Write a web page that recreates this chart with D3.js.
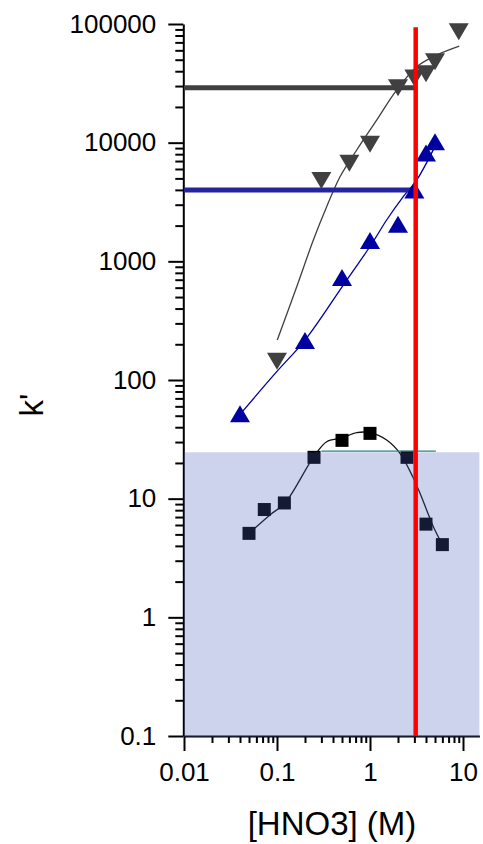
<!DOCTYPE html>
<html>
<head>
<meta charset="utf-8">
<script src="https://cdn.jsdelivr.net/npm/d3@7"></script>
<style>
  html, body { margin: 0; padding: 0; background: #fff; }
  svg { display: block; }
  text { font-family: "Liberation Sans", Arial, sans-serif; fill: #000; }
</style>
</head>
<body>
<svg id="chart" width="483" height="844"></svg>
<script>
// ---- data ----
const yMajorTicks = [0.1, 1, 10, 100, 1000, 10000, 100000];
const yTickLabels = ["0.1", "1", "10", "100", "1000", "10000", "100000"];
const xMajorTicks = [0.01, 0.1, 1, 10];
const xTickLabels = ["0.01", "0.1", "1", "10"];

// inverted triangles (dark gray)
const downX = [0.1, 0.3, 0.6, 1, 2, 3, 4, 5, 9];
const downY = [144, 4800, 6700, 9700, 29000, 35000, 38000, 48000, 86000];
// triangles (blue)
const upX = [0.04, 0.2, 0.5, 1, 2, 3, 4, 5];
const upY = [52, 215, 730, 1500, 2050, 4000, 8200, 10200];
// squares (black)
const sqX = [0.05, 0.073, 0.12, 0.25, 0.5, 1, 2.5, 4, 6];
const sqY = [5.1, 8.1, 9.2, 22.3, 31, 35.5, 22.3, 6.1, 4.1];

// fitted curves
const grayFitX = [0.1007, 0.163, 0.246, 0.342, 0.476, 0.72, 1.18, 1.94, 3.18, 5.21, 9.12];
const grayFitY = [217, 611, 1513, 2885, 5165, 8670, 15500, 27800, 43600, 54800, 65200];
const blueFitX = [0.038, 0.0993, 0.2, 0.516, 1.025, 1.51, 2.28, 3.18, 5.0];
const blueFitY = [49, 117.5, 217, 631, 1373, 2230, 3505, 4845, 9300];
const sqFitX = [0.05, 0.084, 0.122, 0.246, 0.342, 0.496, 0.72, 1.0, 1.51, 2.1, 2.88, 3.45, 4.07, 4.8, 6.0];
const sqFitY = [5.1, 7.3, 9.2, 22.3, 30.2, 32.4, 36.0, 36.0, 31.2, 24.1, 15.3, 11.1, 8.0, 5.8, 4.1];

// reference lines
const grayLevel = 29000;
const blueLevel = 4000;
const redX = 3.1;
const redTop = 94000;
const shadeTop = 24.6;
const tealLevel = 25.2;
const tealRange = [0.3, 5.1];
const xDomain = [0.01, 15];
const yDomain = [0.1, 100000];

// ---- chart ----
const svg = d3.select("#chart");
const x = d3.scaleLog().domain(xDomain).range([184, 184 + 93 * Math.log10(xDomain[1] / xDomain[0])]);
const y = d3.scaleLog().domain(yDomain).range([736, 24]);

function minorTicks(lo, hi) {
  const out = [];
  for (let e = Math.round(Math.log10(lo)); Math.pow(10, e) < hi; e++) {
    for (let m = 2; m <= 9; m++) {
      const v = m * Math.pow(10, e);
      if (v > lo && v < hi) out.push(v);
    }
  }
  return out;
}

// x axis
const gx = svg.append("g").attr("transform", `translate(0,${y(yDomain[0])})`);
gx.call(d3.axisBottom(x).tickValues(minorTicks(xDomain[0], xDomain[1])).tickSize(7).tickFormat("").tickSizeOuter(0));
gx.call(g => g.select(".domain").remove());
const gx2 = svg.append("g").attr("transform", `translate(0,${y(yDomain[0])})`);
gx2.call(d3.axisBottom(x).tickValues(xMajorTicks).tickSize(15).tickPadding(12).tickSizeOuter(0)
  .tickFormat((d, i) => xTickLabels[i]));
[gx, gx2].forEach(g => {
  g.selectAll("line").attr("stroke", "#000").attr("stroke-width", 2);
  g.selectAll("path").attr("stroke", "#000").attr("stroke-width", 2);
  g.selectAll("text").style("font-size", "26px").style("font-family", "'Liberation Sans', Arial, sans-serif");
});

// y axis
const gy = svg.append("g").attr("transform", `translate(${x(xDomain[0]) - 0.7},0)`);
gy.call(d3.axisLeft(y).tickValues(minorTicks(yDomain[0], yDomain[1])).tickSize(8).tickFormat("").tickSizeOuter(0));
gy.call(g => g.select(".domain").remove());
const gy2 = svg.append("g").attr("transform", `translate(${x(xDomain[0]) - 0.7},0)`);
gy2.call(d3.axisLeft(y).tickValues(yMajorTicks).tickSize(15).tickPadding(12).tickSizeOuter(0)
  .tickFormat((d, i) => yTickLabels[i]));
[gy, gy2].forEach(g => {
  g.selectAll("line").attr("stroke", "#000").attr("stroke-width", 2);
  g.selectAll("path").attr("stroke", "#000").attr("stroke-width", 2);
  g.selectAll("text").style("font-size", "26px").style("font-family", "'Liberation Sans', Arial, sans-serif");
});

// axis titles
svg.append("text")
  .attr("x", 332).attr("y", 835)
  .attr("text-anchor", "middle")
  .style("font-size", "33px")
  .text("[HNO3] (M)");
svg.append("text")
  .attr("transform", "translate(43,405) rotate(-90)")
  .attr("text-anchor", "middle")
  .style("font-size", "33px")
  .text("k'");

// fitted curves
const line = d3.line().x(d => x(d[0])).y(d => y(d[1])).curve(d3.curveCatmullRom.alpha(0.5));
svg.append("path").datum(grayFitX.map((v, i) => [v, grayFitY[i]]))
  .attr("d", line).attr("fill", "none").attr("stroke", "#404040").attr("stroke-width", 1.3);
svg.append("path").datum(blueFitX.map((v, i) => [v, blueFitY[i]]))
  .attr("d", line).attr("fill", "none").attr("stroke", "#0000a0").attr("stroke-width", 1.3);
svg.append("path").datum(sqFitX.map((v, i) => [v, sqFitY[i]]))
  .attr("d", line).attr("fill", "none").attr("stroke", "#111").attr("stroke-width", 1.3);

// thick horizontal reference lines
svg.append("line")
  .attr("x1", x(xDomain[0])).attr("x2", x(redX))
  .attr("y1", y(grayLevel)).attr("y2", y(grayLevel))
  .attr("stroke", "#404040").attr("stroke-width", 5);
svg.append("line")
  .attr("x1", x(xDomain[0])).attr("x2", x(redX))
  .attr("y1", y(blueLevel)).attr("y2", y(blueLevel))
  .attr("stroke", "#2424a0").attr("stroke-width", 5);

// markers
const triW = 20, triH = 17;
svg.append("g").selectAll("path").data(downX.map((v, i) => [v, downY[i]])).join("path")
  .attr("d", d => {
    const cx = x(d[0]), cy = y(d[1]);
    return `M${cx - triW / 2},${cy - triH / 2}L${cx + triW / 2},${cy - triH / 2}L${cx},${cy + triH / 2}Z`;
  })
  .attr("fill", "#404040");
svg.append("g").selectAll("path").data(upX.map((v, i) => [v, upY[i]])).join("path")
  .attr("d", d => {
    const cx = x(d[0]), cy = y(d[1]);
    return `M${cx - triW / 2},${cy + triH / 2}L${cx + triW / 2},${cy + triH / 2}L${cx},${cy - triH / 2}Z`;
  })
  .attr("fill", "#0000a0");
const sq = 13;
svg.append("g").selectAll("rect").data(sqX.map((v, i) => [v, sqY[i]])).join("rect")
  .attr("x", d => x(d[0]) - sq / 2).attr("y", d => y(d[1]) - sq / 2)
  .attr("width", sq).attr("height", sq)
  .attr("fill", "#000");

// translucent shaded region
svg.append("rect")
  .attr("x", x(xDomain[0])).attr("y", y(shadeTop))
  .attr("width", x(xDomain[1]) - x(xDomain[0]))
  .attr("height", y(yDomain[0]) - y(shadeTop) + 1)
  .attr("fill", "rgb(73,95,185)").attr("fill-opacity", 0.275);

// teal line at the top of the shade
svg.append("line")
  .attr("x1", x(tealRange[0])).attr("x2", x(tealRange[1]))
  .attr("y1", y(tealLevel)).attr("y2", y(tealLevel))
  .attr("stroke", "#2a8080").attr("stroke-width", 1.3);

// red vertical line
svg.append("line")
  .attr("x1", x(redX)).attr("x2", x(redX))
  .attr("y1", y(redTop)).attr("y2", y(yDomain[0]))
  .attr("stroke", "#ff0000").attr("stroke-width", 4.5);
</script>
</body>
</html>
